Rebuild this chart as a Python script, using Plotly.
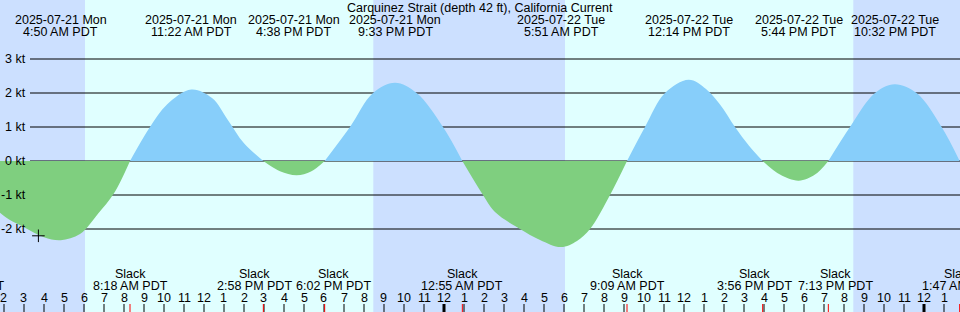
import plotly.graph_objects as go

# ---------------- data ----------------
# hours counted from 2025-07-21 00:00 PDT
curve_hours = [-0.05, 1.8, 3.0, 4.0, 4.833, 5.8, 6.7, 7.5, 8.3,
               9.3, 10.15, 11.367, 12.4, 13.2, 14.0, 14.967,
               15.8, 16.633, 17.35, 18.033,
               19.3, 20.45, 21.55, 22.63, 23.95, 24.917,
               25.95, 26.55, 27.8, 28.8, 29.85, 30.65, 31.3, 32.3, 33.15,
               34.05, 35.05, 36.233, 37.1, 37.8, 38.55, 39.25, 39.933,
               40.8, 41.733, 42.55, 43.217,
               44.3, 45.55, 46.533, 47.63, 48.88, 49.783]
curve_kt = [0.0, -1.52, -1.95, -2.24, -2.33, -2.15, -1.55, -0.95, 0.0,
            1.0, 1.66, 2.10, 1.85, 1.2, 0.52, 0.0,
            -0.30, -0.42, -0.31, 0.0,
            1.0, 2.0, 2.30, 2.0, 1.0, 0.0,
            -1.0, -1.5, -2.0, -2.32, -2.53, -2.35, -2.0, -1.0, 0.0,
            1.0, 2.0, 2.39, 2.12, 1.66, 1.0, 0.45, 0.0,
            -0.40, -0.58, -0.40, 0.0,
            1.0, 2.0, 2.26, 2.0, 1.0, 0.0]

extreme_hours = [4.833, 11.367, 16.633, 21.55, 29.85, 36.233, 41.733, 46.533]
extreme_dates = ["2025-07-21 Mon"] * 4 + ["2025-07-22 Tue"] * 4
extreme_times = ["4:50 AM PDT", "11:22 AM PDT", "4:38 PM PDT", "9:33 PM PDT",
                 "5:51 AM PDT", "12:14 PM PDT", "5:44 PM PDT", "10:32 PM PDT"]

slack_hours = [-0.05, 8.3, 14.967, 18.033, 24.917, 33.15, 39.933, 43.217, 49.783]
slack_times = ["11:57 PM PDT", "8:18 AM PDT", "2:58 PM PDT", "6:02 PM PDT", "12:55 AM PDT",
               "9:09 AM PDT", "3:56 PM PDT", "7:13 PM PDT", "1:47 AM PDT"]

night_start = [1.8, 20.465, 44.465]
night_end = [6.05, 30.05, 49.8]

hour_ticks = list(range(2, 50))
grid_kt = [-2, -1, 0, 1, 2, 3]
grid_labels = ["-2 kt", "-1 kt", "0 kt", "1 kt", "2 kt", "3 kt"]

now_hour = [3.72]
now_kt = [-2.2]

title = "Carquinez Strait (depth 42 ft), California Current"

# ---------------- style ----------------
W, H = 960, 312
X0, X1 = 1.8, 49.8
Y0, Y1 = -151 / 34, 161 / 34
DAY = "#E0FFFF"
NIGHT = "#CCE0FF"
FLOOD = "#87CEFA"
EBB = "#7FCF7F"
FONT = dict(family="Liberation Sans, Arial, sans-serif", size=12.5, color="black")
# horizontal nudges (px) that keep neighbouring labels from overlapping
slack_label_nudge = [0, 0, -9, 9, 0, 0, -8, 7, 0]
extreme_label_nudge = [0, 0, -3, 0, 0, 0, 0, 0]


def px_x(h, nudge=0):
    return (h - X0) / (X1 - X0) + nudge / W


def py(p):
    return 1 - p / H


fig = go.Figure()

# curve split into flood/ebb segments at slack points
segments = []
cur = [(curve_hours[0], curve_kt[0])]
for h, v in zip(curve_hours[1:], curve_kt[1:]):
    cur.append((h, v))
    if v == 0:
        segments.append(cur)
        cur = [(h, v)]
if len(cur) > 1:
    segments.append(cur)

for seg in segments:
    xs = [p[0] for p in seg]
    ys = [p[1] for p in seg]
    col = FLOOD if sum(ys) > 0 else EBB
    fig.add_trace(go.Scatter(x=xs, y=ys, mode="lines",
                             line=dict(width=0, shape="spline", smoothing=1.0, color=col),
                             fill="tozeroy", fillcolor=col, hoverinfo="skip", showlegend=False))

fig.add_trace(go.Scatter(x=now_hour, y=now_kt, mode="markers",
                         marker=dict(symbol="cross-thin-open", size=9, color="black",
                                     line=dict(width=1, color="black")),
                         hoverinfo="skip", showlegend=False))

shapes = []
for a, b in zip(night_start, night_end):
    shapes.append(dict(type="rect", xref="x", yref="paper", x0=a, x1=b, y0=0, y1=1,
                       fillcolor=NIGHT, line=dict(width=0), layer="below"))
for g in grid_kt:
    shapes.append(dict(type="line", xref="paper", yref="y", x0=30 / W, x1=1, y0=g, y1=g,
                       line=dict(color="black", width=1), layer="below"))
for h in hour_ticks:
    shapes.append(dict(type="line", xref="x", yref="paper", x0=h, x1=h, y0=0, y1=8 / H,
                       line=dict(color="black", width=3 if h % 24 == 0 else 1)))
for h in slack_hours:
    shapes.append(dict(type="line", xref="x", yref="paper", x0=h, x1=h, y0=0, y1=8 / H,
                       line=dict(color="red", width=1)))

ann = []
ann.append(dict(text=title, xref="paper", yref="paper", x=0.5, y=py(7.5), xanchor="center",
                yanchor="middle", showarrow=False, font=FONT))
for h, d, t, n in zip(extreme_hours, extreme_dates, extreme_times, extreme_label_nudge):
    ann.append(dict(text=d, xref="paper", yref="paper", x=px_x(h, n), y=py(20), xanchor="center",
                    yanchor="middle", showarrow=False, font=FONT))
    ann.append(dict(text=t, xref="paper", yref="paper", x=px_x(h, n), y=py(32), xanchor="center",
                    yanchor="middle", showarrow=False, font=FONT))
for h, t, n in zip(slack_hours, slack_times, slack_label_nudge):
    ann.append(dict(text="Slack", xref="paper", yref="paper", x=px_x(h, n), y=py(273.5),
                    xanchor="center", yanchor="middle", showarrow=False, font=FONT))
    ann.append(dict(text=t, xref="paper", yref="paper", x=px_x(h, n), y=py(285.5),
                    xanchor="center", yanchor="middle", showarrow=False, font=FONT))
for h in hour_ticks:
    lab = h % 12
    lab = 12 if lab == 0 else lab
    ann.append(dict(text=str(lab), xref="paper", yref="paper", x=px_x(h), y=py(297.5),
                    xanchor="center", yanchor="middle", showarrow=False, font=FONT))
for g, lab in zip(grid_kt, grid_labels):
    ann.append(dict(text=lab, xref="paper", yref="y", x=28 / W, y=g, xanchor="right",
                    yanchor="middle", showarrow=False, font=FONT))

fig.update_layout(
    width=W, height=H, margin=dict(l=0, r=0, t=0, b=0),
    paper_bgcolor=DAY, plot_bgcolor=DAY,
    xaxis=dict(range=[X0, X1], visible=False, fixedrange=True),
    yaxis=dict(range=[Y0, Y1], visible=False, fixedrange=True),
    shapes=shapes, annotations=ann, showlegend=False,
)

fig.write_html("out.html", config={"displayModeBar": False})
